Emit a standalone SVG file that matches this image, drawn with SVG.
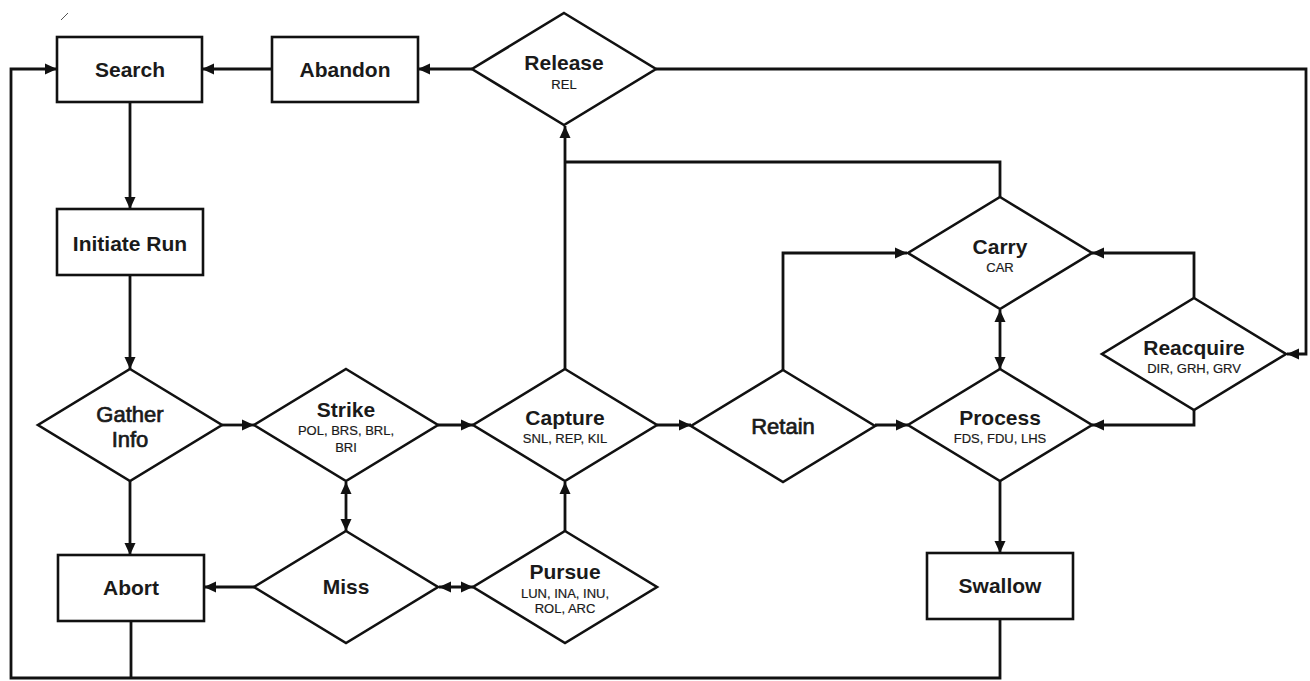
<svg xmlns="http://www.w3.org/2000/svg" width="1310" height="681" viewBox="0 0 1310 681">
<style>
  .shape { fill: #ffffff; stroke: #111111; stroke-width: 2.6; stroke-linejoin: miter; }
  .conn { fill: none; stroke: #111111; stroke-width: 2.8; }
  .title { font-family: "Liberation Sans", Arial, sans-serif; font-weight: bold; font-size: 21px; fill: #1a1a1a; text-anchor: middle; }
  .title-r { font-family: "Liberation Sans", Arial, sans-serif; font-weight: normal; font-size: 22px; fill: #1a1a1a; stroke: #1a1a1a; stroke-width: 0.7; text-anchor: middle; }
  .code { font-family: "Liberation Sans", Arial, sans-serif; font-size: 13px; fill: #1a1a1a; stroke: #1a1a1a; stroke-width: 0.2; text-anchor: middle; }
</style>
<defs>
  <marker id="arrow" markerUnits="userSpaceOnUse" markerWidth="12" markerHeight="12" viewBox="0 0 12 12" refX="12" refY="6" orient="auto-start-reverse">
    <path d="M0,0.5 L12,6 L0,11.5 z" fill="#111111"/>
  </marker>
</defs>
<rect width="1310" height="681" fill="#ffffff"/>
<line x1="61" y1="20" x2="68" y2="13" stroke="#555555" stroke-width="1"/>

<g id="connectors">
  <path class="conn" d="M472,69 H418" marker-end="url(#arrow)"/>
  <path class="conn" d="M272,69 H202" marker-end="url(#arrow)"/>
  <path class="conn" d="M656,69 H1306 V354 H1287" marker-end="url(#arrow)"/>
  <path class="conn" d="M130,102 V209" marker-end="url(#arrow)"/>
  <path class="conn" d="M130,275 V369" marker-end="url(#arrow)"/>
  <path class="conn" d="M222,425 H254" marker-end="url(#arrow)"/>
  <path class="conn" d="M438,425 H473" marker-end="url(#arrow)"/>
  <path class="conn" d="M657,425 H691" marker-end="url(#arrow)"/>
  <path class="conn" d="M875,425 H908" marker-end="url(#arrow)"/>
  <path class="conn" d="M130,481 V555" marker-end="url(#arrow)"/>
  <path class="conn" d="M346,482 V531" marker-start="url(#arrow)" marker-end="url(#arrow)"/>
  <path class="conn" d="M254,587 H204" marker-end="url(#arrow)"/>
  <path class="conn" d="M439,587 H473" marker-start="url(#arrow)" marker-end="url(#arrow)"/>
  <path class="conn" d="M565,531 V482" marker-end="url(#arrow)"/>
  <path class="conn" d="M565,369 V126" marker-end="url(#arrow)"/>
  <path class="conn" d="M1000,197 V162 H565"/>
  <path class="conn" d="M783,370 V253 H907" marker-end="url(#arrow)"/>
  <path class="conn" d="M1194,298 V253 H1092" marker-end="url(#arrow)"/>
  <path class="conn" d="M1194,410 V425 H1092" marker-end="url(#arrow)"/>
  <path class="conn" d="M1000,310 V369" marker-start="url(#arrow)" marker-end="url(#arrow)"/>
  <path class="conn" d="M1000,481 V553" marker-end="url(#arrow)"/>
  <path class="conn" d="M1000,619 V678 H11 V69 H57" marker-end="url(#arrow)"/>
  <path class="conn" d="M131,621 V678"/>
</g>

<g id="search">
  <rect class="shape" x="57" y="37" width="145" height="65"/>
  <text class="title" x="130" y="77">Search</text>
</g>
<g id="abandon">
  <rect class="shape" x="272" y="37" width="146" height="65"/>
  <text class="title" x="345" y="77">Abandon</text>
</g>
<g id="release">
  <polygon class="shape" points="564,13 656,69 564,125 472,69"/>
  <text class="title" x="564" y="70">Release</text>
  <text class="code" x="564" y="89">REL</text>
</g>
<g id="initiate-run">
  <rect class="shape" x="57" y="209" width="146" height="66"/>
  <text class="title" x="130" y="251">Initiate Run</text>
</g>
<g id="gather-info">
  <polygon class="shape" points="130,369 222,425 130,481 38,425"/>
  <text class="title-r" x="130" y="422">Gather</text>
  <text class="title-r" x="130" y="447">Info</text>
</g>
<g id="strike">
  <polygon class="shape" points="346,369 438,425 346,481 254,425"/>
  <text class="title" x="346" y="417">Strike</text>
  <text class="code" x="346" y="435">POL, BRS, BRL,</text>
  <text class="code" x="346" y="452">BRI</text>
</g>
<g id="capture">
  <polygon class="shape" points="565,369 657,425 565,481 473,425"/>
  <text class="title" x="565" y="425">Capture</text>
  <text class="code" x="565" y="443">SNL, REP, KIL</text>
</g>
<g id="retain">
  <polygon class="shape" points="783,370 875,426 783,482 691,426"/>
  <text class="title-r" x="783" y="434">Retain</text>
</g>
<g id="process">
  <polygon class="shape" points="1000,369 1092,425 1000,481 908,425"/>
  <text class="title" x="1000" y="425">Process</text>
  <text class="code" x="1000" y="443">FDS, FDU, LHS</text>
</g>
<g id="carry">
  <polygon class="shape" points="1000,197 1092,253 1000,309 908,253"/>
  <text class="title" x="1000" y="254">Carry</text>
  <text class="code" x="1000" y="272">CAR</text>
</g>
<g id="reacquire">
  <polygon class="shape" points="1194,298 1286,354 1194,410 1102,354"/>
  <text class="title" x="1194" y="355">Reacquire</text>
  <text class="code" x="1194" y="373">DIR, GRH, GRV</text>
</g>
<g id="abort">
  <rect class="shape" x="58" y="555" width="146" height="66"/>
  <text class="title" x="131" y="595">Abort</text>
</g>
<g id="miss">
  <polygon class="shape" points="346,531 438,587 346,643 254,587"/>
  <text class="title" x="346" y="594">Miss</text>
</g>
<g id="pursue">
  <polygon class="shape" points="565,531 657,587 565,643 473,587"/>
  <text class="title" x="565" y="579">Pursue</text>
  <text class="code" x="565" y="598">LUN, INA, INU,</text>
  <text class="code" x="565" y="613">ROL, ARC</text>
</g>
<g id="swallow">
  <rect class="shape" x="927" y="553" width="146" height="66"/>
  <text class="title" x="1000" y="593">Swallow</text>
</g>
</svg>
